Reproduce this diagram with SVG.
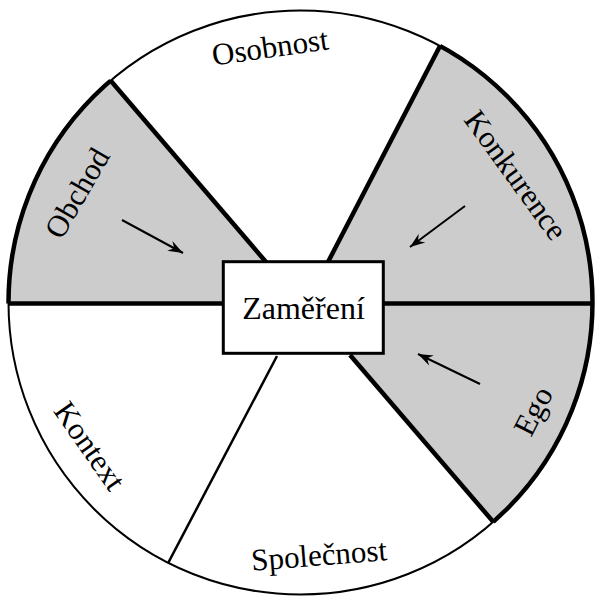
<svg xmlns="http://www.w3.org/2000/svg" width="595" height="598" viewBox="0 0 595 598">
  <style>
    .lbl { font-family: "Liberation Serif", "Times New Roman", serif; font-size: 31px; fill: #000; text-anchor: middle; dominant-baseline: central; }
    .gray { fill: #cccccc; stroke: none; }
    .thick { stroke: #000; stroke-width: 4.5; fill: none; }
    .thin { stroke: #000; stroke-width: 2.5; fill: none; }
    .arrow { stroke: #000; stroke-width: 2; fill: none; marker-end: url(#ah); }
  </style>
  <defs>
    <clipPath id="circ">
      <circle cx="300.5" cy="302.5" r="292"/>
    </clipPath>
    <clipPath id="grayzones">
      <polygon points="-42,-98 301,303.5 -50,303.5"/>
      <polygon points="552,-170 306.7,303.5 650,303.5 650,-170"/>
      <polygon points="305.3,303.5 644,697 650,697 650,303.5"/>
    </clipPath>
    <marker id="ah" markerUnits="userSpaceOnUse" markerWidth="20" markerHeight="14" viewBox="-16 -7 18 14" refX="0" refY="0" orient="auto">
      <path d="M0,0 L-15,-5.5 L-10,0 L-15,5.5 Z" fill="#000"/>
    </marker>
  </defs>

  <!-- base disc -->
  <circle cx="300.5" cy="302.5" r="292" fill="#fff"/>

  <g id="obchod">
    <polygon class="gray" clip-path="url(#circ)" points="-42,-98 301,303.5 -50,303.5"/>
    <text class="lbl" transform="translate(77,193) rotate(-60)">Obchod</text>
  </g>
  <g id="osobnost">
    <text class="lbl" transform="translate(270,47) rotate(-8)">Osobnost</text>
  </g>
  <g id="konkurence">
    <polygon class="gray" clip-path="url(#circ)" points="552,-170 306.7,303.5 650,303.5 650,-170"/>
    <text class="lbl" transform="translate(516,175) rotate(54)">Konkurence</text>
  </g>
  <g id="ego">
    <polygon class="gray" clip-path="url(#circ)" points="305.3,303.5 644,697 650,697 650,303.5"/>
    <text class="lbl" transform="translate(533,411) rotate(-63)">Ego</text>
  </g>
  <g id="spolecnost">
    <text class="lbl" transform="translate(319,555) rotate(-4.5)">Společnost</text>
  </g>
  <g id="kontext">
    <text class="lbl" transform="translate(90,446) rotate(55)">Kontext</text>
  </g>

  <!-- outer ring -->
  <g id="ring">
    <circle cx="300.5" cy="302.5" r="292" fill="none" stroke="#000" stroke-width="2"/>
    <circle cx="300.5" cy="302.5" r="292" class="thick" clip-path="url(#grayzones)"/>
  </g>

  <!-- dividing lines -->
  <g id="dividers" clip-path="url(#circ)">
    <line class="thick" x1="0" y1="303.5" x2="595" y2="303.5"/>
    <line class="thick" x1="81" y1="46" x2="266" y2="262"/>
    <line class="thick" x1="462.4" y1="2.8" x2="328" y2="262"/>
    <line class="thick" x1="350" y1="355" x2="526" y2="560"/>
    <line class="thin" x1="277" y1="356" x2="145" y2="607"/>
  </g>

  <g id="zamereni">
    <rect x="223.3" y="261.7" width="160" height="91.6" fill="#fff" stroke="#000" stroke-width="3"/>
    <text class="lbl" x="303.5" y="308" style="font-size:32px">Zaměření</text>
  </g>

  <g id="connectors">
    <line class="arrow" x1="122" y1="220" x2="183" y2="253"/>
    <line class="arrow" x1="465" y1="206" x2="410" y2="247"/>
    <line class="arrow" x1="480" y1="384" x2="418" y2="354"/>
  </g>
</svg>
